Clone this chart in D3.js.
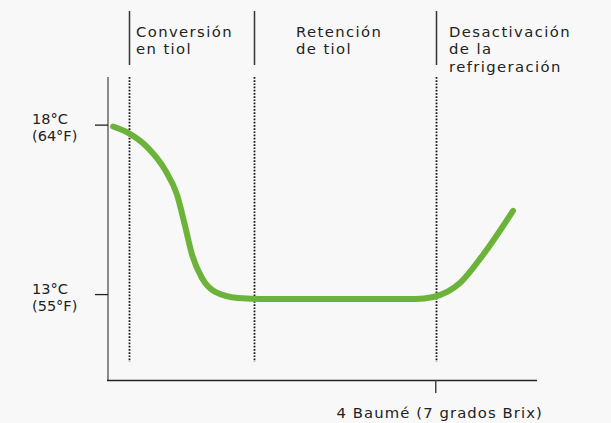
<!DOCTYPE html>
<html>
<head>
<meta charset="utf-8">
<script src="https://cdn.jsdelivr.net/npm/d3@7"></script>
<style>
  body { margin: 0; background: #f8f8f8; }
  svg { display: block; }
  text { fill: #222; }
</style>
</head>
<body>
<svg></svg>
<script>
const width = 611;
const height = 423;

// fermentation progress (0-100) and temperature in °C
const progress = [1.2, 4.7, 9.3, 13.3, 16.1, 17.9, 19.6, 21.9, 25.0, 30.3, 36.6, 51.7, 71.6, 75.8, 82.1, 87.4, 94.4];
const tempC = [17.96, 17.77, 17.33, 16.68, 15.94, 15.06, 14.17, 13.49, 13.08, 12.90, 12.87, 12.87, 12.87, 12.93, 13.35, 14.17, 15.47];

const yTicks = [18, 13];
const yTickLabels = [["18°C", "(64°F)"], ["13°C", "(55°F)"]];

const phaseBounds = [4.9, 34.0, 76.4];
const phaseLabels = [["Conversión", "en tiol"], ["Retención", "de tiol"], ["Desactivación", "de la", "refrigeración"]];
const phaseLabelX = [136, 296, 449];

const xTick = 76.4;
const xTickLabel = "4 Baumé (7 grados Brix)";

const x = d3.scaleLinear().domain([0, 100]).range([108, 537]);
const y = d3.scaleLinear().domain([10.48, 19.42]).range([380, 77]);

const svg = d3.select("svg")
    .attr("width", width)
    .attr("height", height)
    .attr("viewBox", [0, 0, width, height]);

// dotted phase lines
svg.append("g")
    .selectAll("line")
    .data(phaseBounds)
    .join("line")
    .attr("x1", d => Math.round(x(d)) + 0.5)
    .attr("x2", d => Math.round(x(d)) + 0.5)
    .attr("y1", y(19.42))
    .attr("y2", 362)
    .attr("stroke", "#1a1a1a")
    .attr("stroke-width", 1.8)
    .attr("stroke-dasharray", "1.7,1.5");

// solid header separators
svg.append("g")
    .selectAll("line")
    .data(phaseBounds)
    .join("line")
    .attr("x1", d => Math.round(x(d)) + 0.5)
    .attr("x2", d => Math.round(x(d)) + 0.5)
    .attr("y1", 11)
    .attr("y2", 65)
    .attr("stroke", "#333")
    .attr("stroke-width", 1.5);

// header labels, one text per line
const heads = svg.append("g")
    .attr("font-family", "DejaVu Sans, sans-serif")
    .attr("font-size", 14.8)
    .attr("letter-spacing", 1.4);
phaseLabels.forEach((lines, i) => {
    lines.forEach((s, j) => {
        heads.append("text")
            .attr("x", phaseLabelX[i])
            .attr("y", 37 + j * 17.3)
            .text(s);
    });
});

// y axis
svg.append("line")
    .attr("x1", 108).attr("x2", 108)
    .attr("y1", 77).attr("y2", 380)
    .attr("stroke", "#666")
    .attr("stroke-width", 1.5);

svg.append("g")
    .selectAll("line")
    .data(yTicks)
    .join("line")
    .attr("x1", 95).attr("x2", 108)
    .attr("y1", d => y(d)).attr("y2", d => y(d))
    .attr("stroke", "#222")
    .attr("stroke-width", 1.3);

const yl = svg.append("g")
    .attr("font-family", "DejaVu Sans, sans-serif")
    .attr("font-size", 14.5);
yTicks.forEach((d, i) => {
    yTickLabels[i].forEach((s, j) => {
        yl.append("text")
            .attr("x", 32)
            .attr("y", y(d) - 1 + j * 17)
            .text(s);
    });
});

// x axis
svg.append("line")
    .attr("x1", 107).attr("x2", 537)
    .attr("y1", 380.5).attr("y2", 380.5)
    .attr("stroke", "#222")
    .attr("stroke-width", 1.5);

svg.append("line")
    .attr("x1", x(xTick)).attr("x2", x(xTick))
    .attr("y1", 380).attr("y2", 393)
    .attr("stroke", "#444")
    .attr("stroke-width", 1.5);

svg.append("text")
    .attr("x", x(xTick) + 4)
    .attr("y", 418)
    .attr("text-anchor", "middle")
    .attr("font-family", "DejaVu Sans, sans-serif")
    .attr("font-size", 14.8)
    .attr("letter-spacing", 1.1)
    .text(xTickLabel);

// temperature curve
const line = d3.line()
    .x((d, i) => x(progress[i]))
    .y(d => y(d))
    .curve(d3.curveMonotoneX);

svg.append("path")
    .datum(tempC)
    .attr("fill", "none")
    .attr("stroke", "#6cb33a")
    .attr("stroke-width", 6)
    .attr("stroke-linecap", "round")
    .attr("d", line);
</script>
</body>
</html>
